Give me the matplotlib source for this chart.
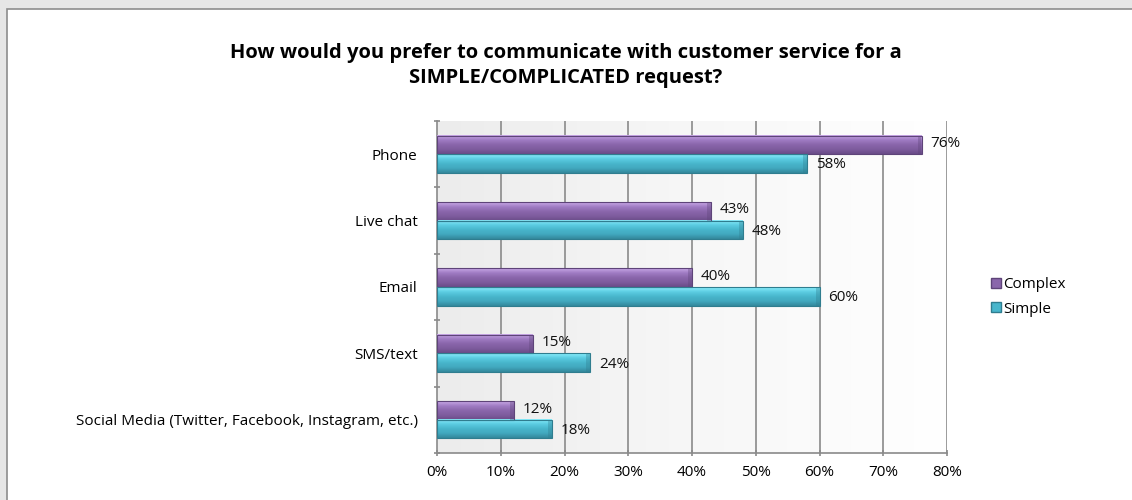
import numpy as np
import matplotlib
matplotlib.use("Agg")
import matplotlib.pyplot as plt
from matplotlib.patches import Rectangle, Patch
from matplotlib.colors import LinearSegmentedColormap

# Survey data
categories = ["Phone", "Live chat", "Email", "SMS/text",
              "Social Media (Twitter, Facebook, Instagram, etc.)"]
complex_vals = [76, 43, 40, 15, 12]
simple_vals = [58, 48, 60, 24, 18]
series_names = ["Complex", "Simple"]
x_ticks = [0, 10, 20, 30, 40, 50, 60, 70, 80]

plt.rcParams["font.family"] = ["Open Sans", "DejaVu Sans"]

W, H = 1132, 500
fig = plt.figure(figsize=(W / 100, H / 100), dpi=100)
fig.patch.set_facecolor("#e6e6e6")

# White chart frame
fig.patches.append(Rectangle((7 / W, -0.1), 1.2, (H - 9) / H + 0.1,
                             transform=fig.transFigure, facecolor="white",
                             edgecolor="#8c8c8c", linewidth=1.2, zorder=-5))

ax = fig.add_axes([437 / W, (H - 453) / H, (947 - 437) / W, (453 - 121) / H])
ax.set_zorder(2)
ax.set_facecolor("none")

n = len(categories)
ax.set_xlim(0, 80)
ax.set_ylim(n, 0)

# Plot-area background: soft horizontal gradient
bg = LinearSegmentedColormap.from_list("bg", ["#ececec", "#f7f7f7", "#ffffff"])
ax.imshow(np.linspace(0, 1, 256).reshape(1, -1), cmap=bg, aspect="auto",
          extent=[0, 80, n, 0], zorder=0)

for v in x_ticks[1:]:
    ax.axvline(v, color="#8a8a8a", linewidth=1.2, zorder=1)

bar_h = 0.28
purple = LinearSegmentedColormap.from_list(
    "p", ["#c9a8e6", "#a07cc4", "#8a66ab", "#7e5c9e", "#6a4c88"])
cyan = LinearSegmentedColormap.from_list(
    "c", ["#8aeefc", "#5ccde2", "#48b6cc", "#42a8be", "#34889c"])

def draw_bar(y_top, value, cmap, edge):
    grad = np.linspace(0, 1, 64).reshape(-1, 1)
    ax.imshow(grad, cmap=cmap, aspect="auto", interpolation="bilinear",
              extent=[0, value, y_top + bar_h, y_top], zorder=3)
    ax.add_patch(Rectangle((0, y_top), value, bar_h, facecolor="none",
                           edgecolor=edge, linewidth=0.8, zorder=4))
    # bevelled right end
    ax.add_patch(Rectangle((value - 0.6, y_top), 0.6, bar_h,
                           facecolor=edge, alpha=0.35, linewidth=0, zorder=4))

for i in range(n):
    yc = i + 0.5
    ytop_c = yc - bar_h
    ytop_s = yc
    draw_bar(ytop_c, complex_vals[i], purple, "#5e4479")
    draw_bar(ytop_s, simple_vals[i], cyan, "#2f7d8f")
    ax.text(complex_vals[i] + 1.4, ytop_c + bar_h / 2 - 0.02,
            f"{complex_vals[i]}%", va="center", ha="left", fontsize=11,
            color="#111111", zorder=5)
    ax.text(simple_vals[i] + 1.4, ytop_s + bar_h / 2 + 0.02,
            f"{simple_vals[i]}%", va="center", ha="left", fontsize=11,
            color="#111111", zorder=5)

ax.set_xticks(x_ticks)
ax.set_xticklabels([f"{v}%" for v in x_ticks], fontsize=11)
ax.set_yticks(np.arange(n + 1))
ax.set_yticklabels([])
ax.set_yticks(np.arange(n) + 0.5, minor=True)
ax.set_yticklabels(categories, minor=True, fontsize=11)
ax.tick_params(axis="y", which="minor", length=0, pad=14)
ax.tick_params(axis="y", which="major", length=5, direction="inout",
               color="#8a8a8a", width=1.2)
ax.tick_params(axis="x", length=5, direction="inout", color="#8a8a8a",
               width=1.2, pad=6)

for s in ["top", "right"]:
    ax.spines[s].set_visible(False)
for s in ["left", "bottom"]:
    ax.spines[s].set_color("#8a8a8a")
    ax.spines[s].set_linewidth(1.2)

fig.text(566 / W, 1 - 53 / H,
         "How would you prefer to communicate with customer service for a",
         ha="center", va="center", fontsize=14.5, fontweight="bold")
fig.text(566 / W, 1 - 78 / H, "SIMPLE/COMPLICATED request?",
         ha="center", va="center", fontsize=14.5, fontweight="bold")

handles = [Patch(facecolor="#8a66ab", edgecolor="#5e4479"),
           Patch(facecolor="#48b6cc", edgecolor="#2f7d8f")]
fig.legend(handles, series_names, loc="center left",
           bbox_to_anchor=(983 / W, 1 - 297 / H), frameon=False,
           fontsize=11, handlelength=0.65, handleheight=0.65,
           handletextpad=0.15, labelspacing=0.6, borderpad=0)

fig.savefig("out.png", dpi=100)
